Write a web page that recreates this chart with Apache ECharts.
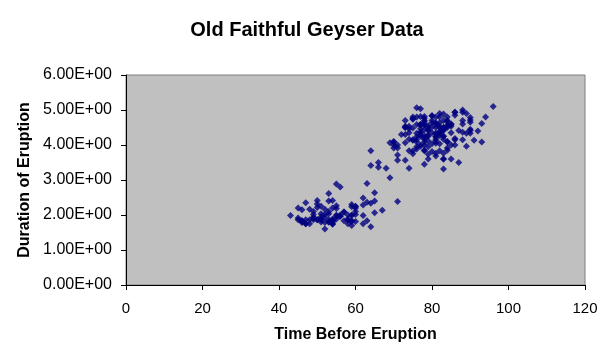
<!DOCTYPE html>
<html>
<head>
<meta charset="utf-8">
<script src="https://cdn.jsdelivr.net/npm/echarts@6/dist/echarts.min.js"></script>
<style>
html,body{margin:0;padding:0;background:#fff;}
#c{width:614px;height:358px;}
</style>
</head>
<body>
<div id="c"></div>
<script>
var chartTitle = "Old Faithful Geyser Data";
var xName = "Time Before Eruption";
var yName = "Duration of Eruption";
var xTicks = [0, 20, 40, 60, 80, 100, 120];
var yTicks = [0, 1, 2, 3, 4, 5, 6];

var waiting = [79,54,74,62,85,55,88,85,51,85,54,84,78,47,83,52,62,84,52,79,51,47,78,69,74,83,55,76,78,79,73,77,66,80,74,52,48,80,59,90,80,58,84,58,73,83,64,53,82,59,75,90,54,80,54,83,71,64,77,81,59,84,48,82,60,92,78,78,65,73,82,56,79,71,62,76,60,78,76,83,75,82,70,65,73,88,76,80,48,86,60,90,50,78,63,72,84,75,51,82,62,88,49,83,81,47,84,52,86,81,75,59,89,79,59,81,50,85,59,87,53,69,77,56,88,81,45,82,55,90,45,83,56,89,46,82,51,86,53,79,81,60,82,77,76,59,80,49,96,53,77,77,65,81,71,70,81,93,53,89,45,86,58,78,66,76,63,88,52,93,49,57,77,68,81,81,73,50,85,74,55,77,83,83,51,78,84,46,83,55,81,57,76,84,77,81,87,77,51,78,60,82,91,53,78,46,77,84,49,83,71,80,49,75,64,76,53,94,55,76,50,82,54,75,78,79,78,78,70,79,70,54,86,50,90,54,54,77,79,64,75,47,86,63,85,82,57,82,67,74,54,83,73,73,88,80,71,83,56,79,78,84,58,83,43,60,75,81,46,90,46,74];
var eruptions = [3.600,1.800,3.333,2.283,4.533,2.883,4.700,3.600,1.950,4.350,1.833,3.917,4.200,1.750,4.700,2.167,1.750,4.800,1.600,4.250,1.800,1.750,3.450,3.067,4.533,3.600,1.967,4.083,3.850,4.433,4.300,4.467,3.367,4.033,3.833,2.017,1.867,4.833,1.833,4.783,4.350,1.883,4.567,1.750,4.533,3.317,3.833,2.100,4.633,2.000,4.800,4.716,1.833,4.833,1.733,4.883,3.717,1.667,4.567,4.317,2.233,4.500,1.750,4.800,1.817,4.400,4.167,4.700,2.067,4.700,4.033,1.967,4.500,4.000,1.983,5.067,2.017,4.567,3.883,3.600,4.133,4.333,4.100,2.633,4.067,4.933,3.950,4.517,2.167,4.000,2.200,4.333,1.867,4.817,1.833,4.300,4.667,3.750,1.867,4.900,2.483,4.367,2.100,4.500,4.050,1.867,4.700,1.783,4.850,3.683,4.733,2.300,4.900,4.417,1.700,4.633,2.317,4.600,1.817,4.417,2.617,4.067,4.250,1.967,4.600,3.767,1.917,4.500,2.267,4.650,1.867,4.167,2.800,4.333,1.833,4.383,1.883,4.933,2.033,3.733,4.233,2.233,4.533,4.817,4.333,1.983,4.633,2.017,5.100,1.800,5.033,4.000,2.400,4.600,3.567,4.000,4.500,4.083,1.800,3.967,2.200,4.150,2.000,3.833,3.500,4.583,2.367,5.000,1.933,4.617,1.917,2.083,4.583,3.333,4.167,4.333,4.500,2.417,4.000,4.167,1.883,4.583,4.250,3.767,2.033,4.433,4.083,1.833,4.417,2.183,4.800,1.833,4.800,4.100,3.966,4.233,3.500,4.366,2.250,4.667,2.100,4.350,4.133,1.867,4.600,1.783,4.367,3.850,1.933,4.500,2.383,4.700,1.867,3.833,3.417,4.233,2.400,4.800,2.000,4.150,1.867,4.267,1.750,4.483,4.000,4.117,4.083,4.267,3.917,4.550,4.083,2.417,4.183,2.217,4.450,1.883,1.850,4.283,3.950,2.333,4.150,2.350,4.933,2.900,4.583,3.833,2.083,4.367,2.133,4.350,2.200,4.450,3.567,4.500,4.150,3.817,3.917,4.450,2.000,4.283,4.767,4.533,1.850,4.250,1.983,2.250,4.750,4.117,2.150,4.417,1.817,4.467];

var points = waiting.map(function (w, i) { return [w, eruptions[i]]; });

function sci(v) {
  var s = Number(v).toExponential(2);
  var parts = s.split('e');
  var sign = parts[1].charAt(0);
  var digits = parts[1].slice(1);
  while (digits.length < 2) digits = '0' + digits;
  return parts[0] + 'E' + sign + digits;
}

var FONT = "'Liberation Sans', Arial, sans-serif";
var chart = echarts.init(document.getElementById('c'), null, {renderer: 'canvas'});
chart.setOption({
  animation: false,
  backgroundColor: '#ffffff',
  title: {
    text: chartTitle,
    left: 'center',
    top: 15,
    textStyle: {fontFamily: FONT, fontSize: 20, fontWeight: 'bold', color: '#000'}
  },
  grid: {
    left: 126, right: 29, top: 75, bottom: 73,
    show: true,
    backgroundColor: '#C0C0C0',
    borderColor: '#808080',
    borderWidth: 1
  },
  xAxis: {
    type: 'value',
    min: xTicks[0], max: xTicks[xTicks.length - 1], interval: 20,
    name: xName,
    nameLocation: 'middle',
    nameGap: 42,
    nameTextStyle: {fontFamily: FONT, fontSize: 16, fontWeight: 'bold', color: '#000'},
    axisLine: {show: true, onZero: false, lineStyle: {color: '#000', width: 1}},
    axisTick: {show: true, inside: false, length: 5, lineStyle: {color: '#000'}},
    axisLabel: {fontFamily: FONT, fontSize: 15, color: '#000', margin: 16},
    splitLine: {show: false}
  },
  yAxis: {
    type: 'value',
    min: yTicks[0], max: yTicks[yTicks.length - 1], interval: 1,
    name: yName,
    nameLocation: 'middle',
    nameGap: 92,
    nameTextStyle: {fontFamily: FONT, fontSize: 16, fontWeight: 'bold', color: '#000'},
    axisLine: {show: true, onZero: false, lineStyle: {color: '#000', width: 1}},
    axisTick: {show: true, inside: false, length: 5, lineStyle: {color: '#000'}},
    axisLabel: {fontFamily: FONT, fontSize: 16, color: '#000', margin: 14, formatter: sci},
    splitLine: {show: false}
  },
  series: [{
    type: 'scatter',
    data: points,
    symbol: 'diamond',
    symbolSize: 7,
    itemStyle: {color: '#000080'}
  }]
});
</script>
</body>
</html>
